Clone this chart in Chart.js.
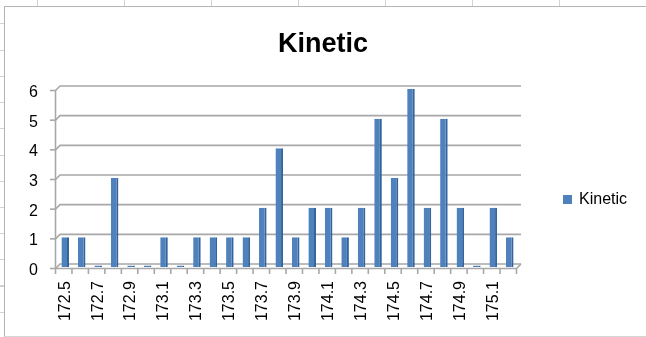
<!DOCTYPE html>
<html>
<head>
<meta charset="utf-8">
<title>Kinetic</title>
<script src="https://cdn.jsdelivr.net/npm/chart.js@4/dist/chart.umd.min.js"></script>
<style>
  html, body { margin: 0; padding: 0; background: #fff; }
  #sheet { position: absolute; left: 0; top: 0; width: 646px; height: 337px; overflow: hidden; background: #fff; }
  /* worksheet column and row rules peeking out around the chart object */
  #cols { position: absolute; left: 0; top: 0; width: 646px; height: 6px;
    background: repeating-linear-gradient(90deg, transparent 0 37px, #d2d2d2 37px 38px, transparent 38px 87px); }
  #rows { position: absolute; left: 0; top: 0; width: 5px; height: 337px;
    background: repeating-linear-gradient(180deg, transparent 0 23.5px, #d2d2d2 23.5px 24.5px, transparent 24.5px 26.2px); }
  #frame { position: absolute; left: 4px; top: 6px; width: 700px; height: 329px; background: #fff;
    border-left: 1px solid #b4b4b4; border-top: 1px solid #b4b4b4; border-bottom: 1px solid #d6d6d6; }
  #wrap { position: absolute; left: 0; top: 0; width: 646px; height: 337px; }
</style>
</head>
<body>
<div id="sheet">
  <div id="cols"></div>
  <div id="rows"></div>
  <div id="frame"></div>
  <div id="wrap"><canvas id="chart"></canvas></div>
</div>
<script>
// Histogram bins (value of each bin) and their counts
const categories = ['172.5','172.6','172.7','172.8','172.9','173.0','173.1','173.2','173.3','173.4',
                    '173.5','173.6','173.7','173.8','173.9','174.0','174.1','174.2','174.3','174.4',
                    '174.5','174.6','174.7','174.8','174.9','175.0','175.1','175.2'];
const kinetic = [1, 1, 0, 3, 0, 0, 1, 0, 1, 1,
                 1, 1, 2, 4, 1, 2, 2, 1, 2, 5,
                 3, 6, 2, 5, 2, 0, 2, 1];
// Category labels printed under the axis (every other bin)
const xTickLabels = ['172.5','172.7','172.9','173.1','173.3','173.5','173.7','173.9',
                     '174.1','174.3','174.5','174.7','174.9','175.1'];
// Value axis ticks
const yTicks = [0, 1, 2, 3, 4, 5, 6];

const seriesName = 'Kinetic';
const barBlue = '#4f81bd';
const barSide = '#35649c';
const wallGrey = '#a8a8a8';
const fontFamily = '"Liberation Sans", Arial, sans-serif';

// Room kept free on the right of the plot for the legend
const LEGEND_ROOM = 128;

// Depth offsets used to fake the 3-D walls: front edge and back wall
const FRONT = { dx: -1.5, dy: 1.5 };
const BACK = { dx: 3, dy: -3 };

const wallsPlugin = {
  id: 'walls3d',
  beforeDatasetsDraw(chart) {
    const { ctx, chartArea: a, scales } = chart;
    const x = scales.x, y = scales.y;
    ctx.save();
    ctx.strokeStyle = wallGrey;
    ctx.lineWidth = 1.6;
    ctx.lineJoin = 'miter';
    const fl = a.left + FRONT.dx;
    y.ticks.forEach(t => {
      const py = y.getPixelForValue(t.value);
      // side-wall diagonal and back-wall gridline
      ctx.beginPath();
      ctx.moveTo(fl, py + FRONT.dy);
      ctx.lineTo(a.left + BACK.dx, py + BACK.dy);
      ctx.lineTo(a.right + BACK.dx, py + BACK.dy);
      ctx.stroke();
      // tick mark on the front axis
      ctx.beginPath();
      ctx.moveTo(fl - 5.5, py + FRONT.dy);
      ctx.lineTo(fl, py + FRONT.dy);
      ctx.stroke();
    });
    const y0 = y.getPixelForValue(0);
    const yTop = y.getPixelForValue(y.max);
    // front value axis
    ctx.beginPath();
    ctx.moveTo(fl, yTop + FRONT.dy);
    ctx.lineTo(fl, y0 + FRONT.dy);
    ctx.stroke();
    // front edge of the floor with its right-hand corner
    ctx.beginPath();
    ctx.moveTo(fl, y0 + FRONT.dy);
    ctx.lineTo(a.right + FRONT.dx, y0 + FRONT.dy);
    ctx.lineTo(a.right + BACK.dx, y0 + BACK.dy);
    ctx.stroke();
    // category separators hanging below the floor
    const step = x.getPixelForValue(1) - x.getPixelForValue(0);
    for (let k = 0; k <= categories.length; k++) {
      const px = x.getPixelForValue(0) - step / 2 + k * step + FRONT.dx;
      ctx.beginPath();
      ctx.moveTo(px, y0 + FRONT.dy);
      ctx.lineTo(px, y0 + FRONT.dy + 5.5);
      ctx.stroke();
    }
    ctx.restore();
  }
};

const sideLegendPlugin = {
  id: 'sideLegend',
  afterDraw(chart) {
    const { ctx, chartArea: a } = chart;
    const ds = chart.data.datasets[0];
    const cy = (a.top + a.bottom) / 2 + 21.5;
    const bx = a.right + 45;
    ctx.save();
    ctx.fillStyle = ds.backgroundColor;
    ctx.fillRect(bx, cy - 4.5, 9, 9);
    ctx.fillStyle = '#000';
    ctx.font = '16px ' + fontFamily;
    ctx.textBaseline = 'middle';
    ctx.textAlign = 'left';
    ctx.fillText(ds.label, bx + 16, cy + 0.5);
    ctx.restore();
  }
};

new Chart(document.getElementById('chart'), {
  type: 'bar',
  data: {
    labels: categories,
    datasets: [{
      label: seriesName,
      data: kinetic,
      backgroundColor: barBlue,
      borderColor: barSide,
      borderWidth: { top: 0, right: 2, bottom: 0, left: 0 },
      borderSkipped: 'start',
      barPercentage: 0.46,
      categoryPercentage: 1.0,
      minBarLength: 1.5
    }]
  },
  options: {
    responsive: true,
    maintainAspectRatio: false,
    animation: false,
    layout: { padding: 0 },
    plugins: {
      legend: { display: false },
      tooltip: { enabled: false },
      title: {
        display: true,
        text: seriesName,
        color: '#000',
        font: { family: fontFamily, size: 27, weight: 'bold', lineHeight: 1.2 },
        padding: { top: 28, bottom: 28.6 }
      }
    },
    scales: {
      x: {
        grid: { display: false, drawTicks: false },
        border: { display: false },
        ticks: {
          autoSkip: false,
          maxRotation: 90,
          minRotation: 90,
          padding: 14,
          color: '#000',
          font: { family: fontFamily, size: 16 },
          callback: (v, i) => xTickLabels.includes(categories[i]) ? categories[i] : ''
        },
        // fixed band height; the right-hand padding reserves the legend column
        afterFit: s => { s.height = 70; s.paddingLeft = 0; s.paddingRight = LEGEND_ROOM; s.paddingTop = 0; s.paddingBottom = 0; }
      },
      y: {
        min: 0,
        max: 6,
        grid: { display: false, drawTicks: false },
        border: { display: false },
        afterBuildTicks: s => { s.ticks = yTicks.map(v => ({ value: v })); },
        ticks: {
          padding: 19,
          labelOffset: 3.5,
          color: '#000',
          font: { family: fontFamily, size: 16 }
        },
        afterFit: s => { s.width = 57; s.paddingLeft = 0; s.paddingRight = 0; s.paddingTop = 0; s.paddingBottom = 0; }
      }
    }
  },
  plugins: [wallsPlugin, sideLegendPlugin]
});
</script>
</body>
</html>
